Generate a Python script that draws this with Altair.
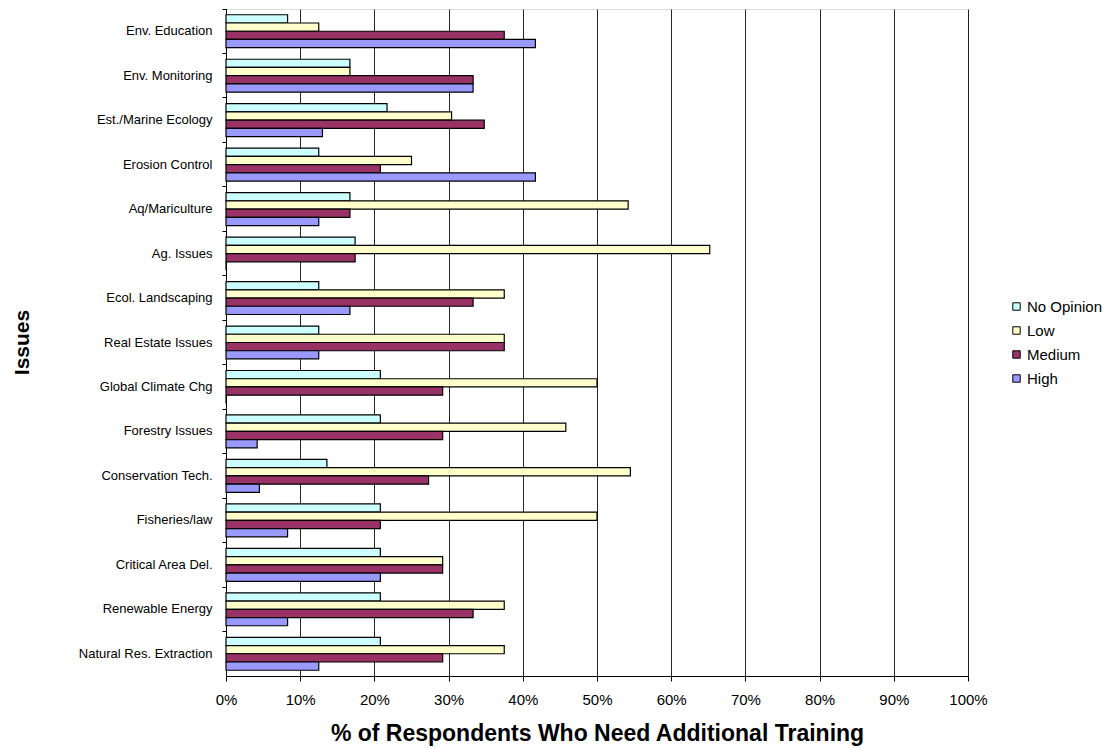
import altair as alt
import pandas as pd

issues = [
    "Env. Education", "Env. Monitoring", "Est./Marine Ecology", "Erosion Control",
    "Aq/Mariculture", "Ag. Issues", "Ecol. Landscaping", "Real Estate Issues",
    "Global Climate Chg", "Forestry Issues", "Conservation Tech.", "Fisheries/law",
    "Critical Area Del.", "Renewable Energy", "Natural Res. Extraction",
]
series = ["No Opinion", "Low", "Medium", "High"]
colors = ["#CCFFFF", "#FFFFCC", "#993366", "#9999FF"]

no_opinion = [0.083, 0.167, 0.217, 0.125, 0.167, 0.174, 0.125, 0.125, 0.208, 0.208, 0.136, 0.208, 0.208, 0.208, 0.208]
low =        [0.125, 0.167, 0.304, 0.250, 0.542, 0.652, 0.375, 0.375, 0.500, 0.458, 0.545, 0.500, 0.292, 0.375, 0.375]
medium =     [0.375, 0.333, 0.348, 0.208, 0.167, 0.174, 0.333, 0.375, 0.292, 0.292, 0.273, 0.208, 0.292, 0.333, 0.292]
high =       [0.417, 0.333, 0.130, 0.417, 0.125, 0.000, 0.167, 0.125, 0.000, 0.042, 0.045, 0.083, 0.208, 0.083, 0.125]

rows = []
for name, vals in zip(series, [no_opinion, low, medium, high]):
    for iss, v in zip(issues, vals):
        rows.append({"issue": iss, "series": name, "value": v})
df = pd.DataFrame(rows)

FONT = "Liberation Sans"

bars = alt.Chart(df).mark_bar(stroke="black", strokeWidth=1.2).encode(
    y=alt.Y(
        "issue:N", sort=issues,
        scale=alt.Scale(paddingInner=0, paddingOuter=0),
        axis=alt.Axis(
            title="Issues", titleFont=FONT, titleFontSize=21, titleFontWeight="bold",
            titleColor="black", titleAngle=270, titleX=-204, titleY=333,
            titleAlign="center", titleBaseline="middle",
            labelFont=FONT, labelFontSize=13, labelColor="black",
            labelPadding=10, tickSize=4, tickColor="black", bandPosition=0,
            domainColor="black", grid=False,
        ),
    ),
    yOffset=alt.YOffset(
        "series:N", sort=series,
        scale=alt.Scale(paddingInner=0, paddingOuter=0.7),
    ),
    x=alt.X(
        "value:Q",
        scale=alt.Scale(domain=[0, 1], nice=False),
        axis=alt.Axis(
            title="% of Respondents Who Need Additional Training",
            titleFont=FONT, titleFontSize=23, titleFontWeight="bold", titleColor="black",
            titleX=371, titleY=64, titleAlign="center", titleBaseline="alphabetic",
            format="%", values=[i / 10 for i in range(11)], labelFlush=False,
            labelFont=FONT, labelFontSize=15, labelColor="black", labelPadding=11,
            tickSize=5, tickColor="black", domainColor="black",
            grid=True, gridColor="black", gridOpacity=0.85, gridWidth=1,
        ),
    ),
    color=alt.Color(
        "series:N", sort=series,
        scale=alt.Scale(domain=series, range=colors),
        legend=alt.Legend(
            title=None, orient="none", legendX=783, legendY=290,
            symbolType="square", symbolSize=55, symbolStrokeColor="black",
            symbolStrokeWidth=1, labelFont=FONT, labelFontSize=15, labelColor="black",
            rowPadding=8, labelOffset=3, padding=0,
        ),
    ),
)

chart = bars.properties(
    width=742, height=667,
    autosize=alt.AutoSizeParams(type="none"),
    padding={"left": 218, "top": 1, "right": 139, "bottom": 72},
).configure_view(stroke="#808080", strokeWidth=2).configure(background="white")

chart.save("out.html", embed_options={"renderer": "svg", "actions": False})
